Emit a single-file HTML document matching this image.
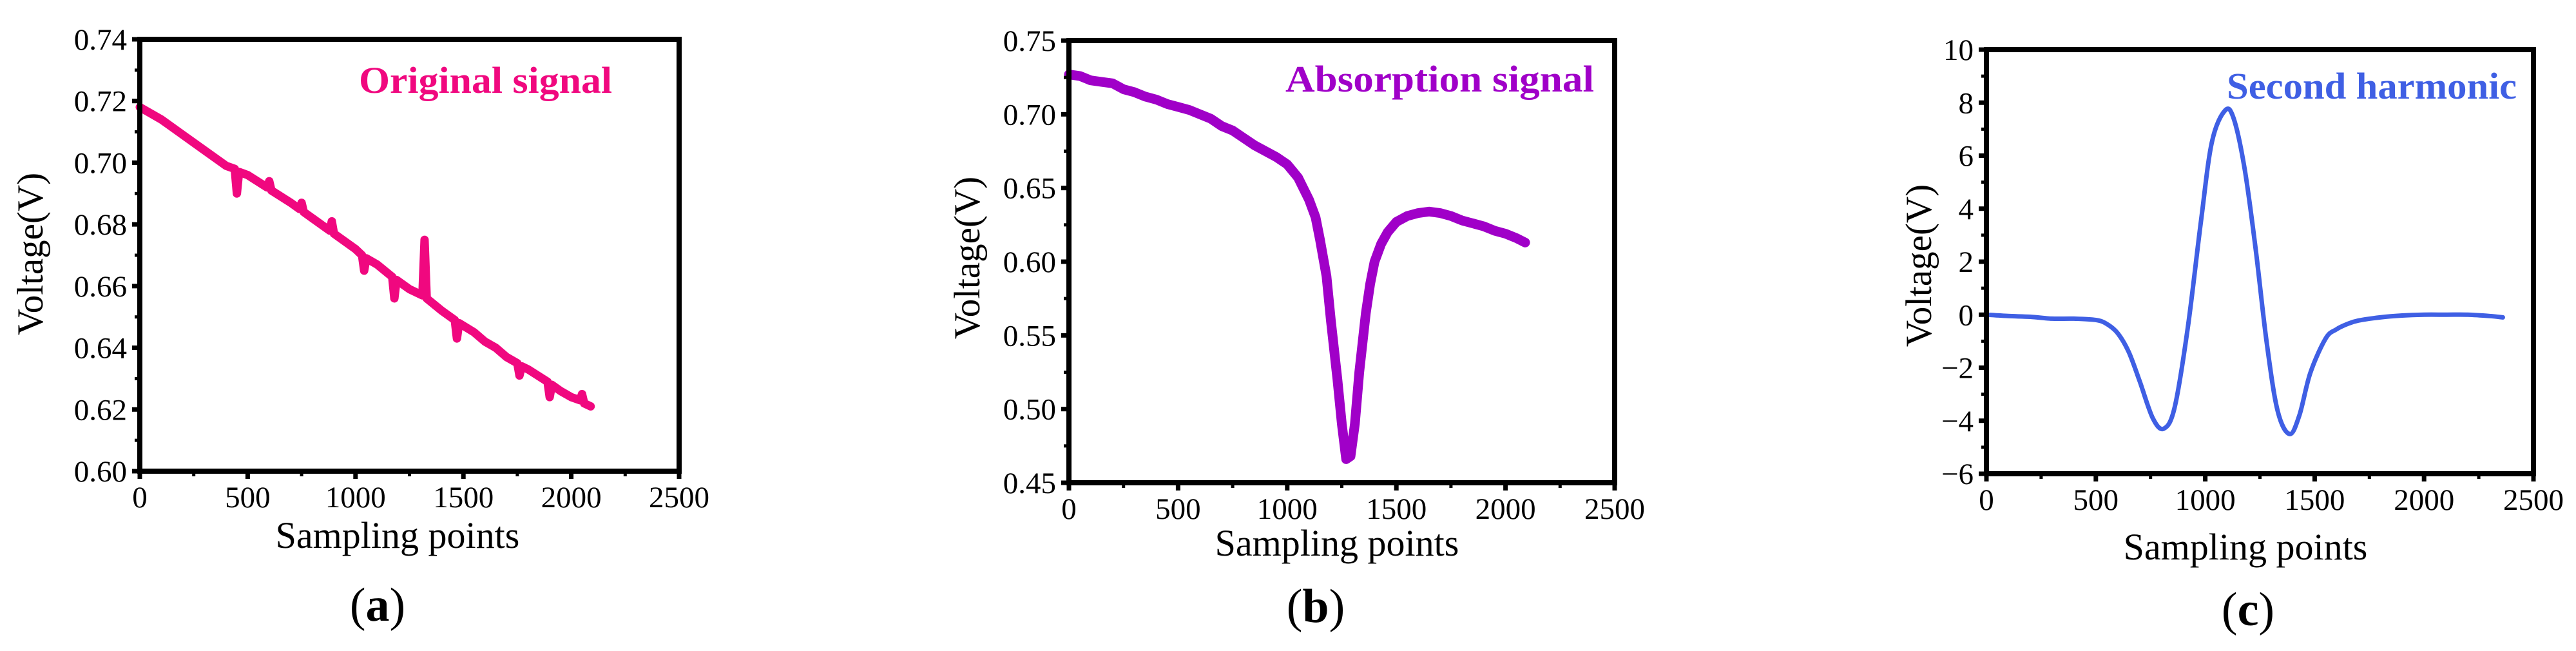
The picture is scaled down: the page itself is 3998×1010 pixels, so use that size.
<!DOCTYPE html>
<html><head><meta charset="utf-8"><style>
html,body{margin:0;padding:0;background:#fff}
svg{display:block}
text{font-family:"Liberation Serif","DejaVu Serif",serif}
</style></head><body>
<svg id="fig" width="3998" height="1010" viewBox="0 0 3998 1010">
<g id="pa"></g>
<g id="pb"></g>
<g id="pc"></g>
</svg>
<script>
// Panel (a) data
const aX = [0,100,200,300,400,440,450,460,500,590,600,610,700,740,750,760,800,880,890,900,1000,1030,1040,1050,1100,1170,1180,1190,1250,1310,1320,1330,1400,1460,1470,1480,1550,1600,1650,1700,1750,1760,1770,1800,1890,1900,1910,1950,2000,2040,2050,2060,2090];
const aY = [0.718,0.714,0.709,0.704,0.699,0.698,0.690,0.697,0.696,0.692,0.694,0.691,0.687,0.685,0.687,0.684,0.682,0.678,0.681,0.677,0.672,0.670,0.665,0.669,0.667,0.663,0.656,0.662,0.659,0.657,0.675,0.656,0.652,0.649,0.643,0.648,0.645,0.642,0.640,0.637,0.635,0.631,0.634,0.633,0.629,0.624,0.628,0.626,0.624,0.623,0.625,0.622,0.621];
const aYTicks = ["0.60","0.62","0.64","0.66","0.68","0.70","0.72","0.74"];
// Panel (b) data
const bX = [0,50,100,150,200,250,300,350,400,450,500,550,600,650,700,750,800,850,900,950,1000,1050,1100,1130,1150,1180,1200,1230,1250,1270,1290,1310,1330,1360,1380,1400,1430,1460,1500,1550,1600,1650,1700,1750,1800,1850,1900,1950,2000,2050,2090];
const bY = [0.727,0.726,0.723,0.722,0.721,0.717,0.715,0.712,0.710,0.707,0.705,0.703,0.700,0.697,0.692,0.689,0.684,0.679,0.675,0.671,0.666,0.657,0.642,0.630,0.615,0.590,0.560,0.520,0.490,0.466,0.468,0.490,0.525,0.565,0.585,0.600,0.612,0.620,0.627,0.631,0.633,0.634,0.633,0.631,0.628,0.626,0.624,0.621,0.619,0.616,0.613];
const bYTicks = ["0.45","0.50","0.55","0.60","0.65","0.70","0.75"];
// Panel (c) data
const cX = [0,100,200,300,400,500,550,600,650,700,760,810,860,920,980,1030,1090,1130,1180,1230,1280,1330,1385,1430,1480,1550,1600,1650,1700,1800,1900,2000,2100,2200,2300,2360];
const cY = [0,-0.05,-0.08,-0.15,-0.15,-0.2,-0.35,-0.7,-1.4,-2.5,-3.9,-4.3,-3.5,-0.5,3.5,6.5,7.7,7.4,5.5,2.5,-1.0,-3.6,-4.5,-3.8,-2.2,-0.9,-0.55,-0.35,-0.22,-0.1,-0.03,0,0,0,-0.05,-0.1];
const cYTicks = ["\u22126","\u22124","\u22122","0","2","4","6","8","10"];
const xTicks = ["0","500","1000","1500","2000","2500"];

const NS="http://www.w3.org/2000/svg";
function mk(p,tag,at,txt){const e=document.createElementNS(NS,tag);for(const k in at)e.setAttribute(k,at[k]);if(txt!==undefined)e.textContent=txt;p.appendChild(e);return e;}

function panel(g,cfg){
  const {L,R,T,B,ymin,ymax,ystep,yTicks,xs,ys,color,sw,title,tx,tb,tlen,lab,labx,ylx,ylabCy,smooth,xlabCx,xlabY,labY}=cfg;
  const X=v=>L+(v/2500)*(R-L);
  const Y=v=>B-(v-ymin)/(ymax-ymin)*(B-T);
  let d="";
  const P=xs.map((x,i)=>[X(x),Y(ys[i])]);
  if(smooth){
    d="M"+P[0][0]+","+P[0][1];
    for(let i=0;i<P.length-1;i++){
      const p0=P[Math.max(0,i-1)],p1=P[i],p2=P[i+1],p3=P[Math.min(P.length-1,i+2)];
      const c1=[p1[0]+(p2[0]-p0[0])/6,p1[1]+(p2[1]-p0[1])/6];
      const c2=[p2[0]-(p3[0]-p1[0])/6,p2[1]-(p3[1]-p1[1])/6];
      d+=` C${c1[0]},${c1[1]} ${c2[0]},${c2[1]} ${p2[0]},${p2[1]}`;
    }
  } else d="M"+P.map(p=>p[0]+","+p[1]).join(" L");
  const ln=mk(g,"path",{d:d,fill:"none",stroke:color,"stroke-width":sw,"stroke-linejoin":"round","stroke-linecap":"round"});
  
  
  const fr=mk(g,"rect",{x:L,y:T,width:R-L,height:B-T,fill:"none",stroke:"#000","stroke-width":8});
  
  
  yTicks.forEach((t,i)=>{
    const v=ymin+i*ystep,y=Y(v);
    mk(g,"line",{x1:L-12,x2:L,y1:y,y2:y,stroke:"#000","stroke-width":7});
    if(i<yTicks.length-1){const ym=Y(v+ystep/2);mk(g,"line",{x1:L-8,x2:L,y1:ym,y2:ym,stroke:"#000","stroke-width":5});}
    const tl=mk(g,"text",{x:L-20,y:y+16,"font-size":47,"text-anchor":"end",style:"fill:#000"},t);
    
    
  });
  xTicks.forEach((t,i)=>{
    const v=i*500,x=X(v);
    mk(g,"line",{x1:x,x2:x,y1:B,y2:B+12,stroke:"#000","stroke-width":7});
    if(i<xTicks.length-1){const xm=X(v+250);mk(g,"line",{x1:xm,x2:xm,y1:B,y2:B+8,stroke:"#000","stroke-width":5});}
    const tl=mk(g,"text",{x:x,y:B+56,"font-size":47,"text-anchor":"middle",style:"fill:#000"},t);
    
    
  });
  const xt=mk(g,"text",{x:xlabCx,y:xlabY,"font-size":58,"text-anchor":"middle",style:"fill:#000"},"Sampling points");
  
  
  const yt=mk(g,"text",{x:0,y:0,"font-size":57,"text-anchor":"middle",style:"fill:#000",transform:`translate(${ylx},${ylabCy}) rotate(-90)`},"Voltage(V)");
  
  
  const tt=mk(g,"text",{x:tx,y:tb,"font-size":58,"font-weight":"bold",style:"fill:"+color,textLength:tlen,lengthAdjust:"spacingAndGlyphs"},title);
  
  
  const pl=mk(g,"text",{x:labx,y:labY,"font-size":74,"text-anchor":"middle",style:"fill:#000"});
  
  
  mk(pl,"tspan",{},"(");mk(pl,"tspan",{"font-weight":"bold"},lab);mk(pl,"tspan",{},")");
}

panel(document.getElementById("pa"),{L:217,R:1054,T:61,B:731,ymin:0.60,ymax:0.74,ystep:0.02,yTicks:aYTicks,xs:aX,ys:aY,color:"#F0087F",sw:13,
  title:"Original signal",tx:557,tb:144,tlen:393,lab:"a",labx:586,labY:963,ylx:66,ylabCy:394,smooth:false,xlabCx:617,xlabY:850});
panel(document.getElementById("pb"),{L:1659,R:2506,T:63,B:749,ymin:0.45,ymax:0.75,ystep:0.05,yTicks:bYTicks,xs:bX,ys:bY,color:"#A000C8",sw:15,
  title:"Absorption signal",tx:1995,tb:142,tlen:479,lab:"b",labx:2042,labY:965,ylx:1520,ylabCy:400,smooth:false,xlabCx:2075,xlabY:862});
panel(document.getElementById("pc"),{L:3083,R:3932,T:77,B:735,ymin:-6,ymax:10,ystep:2,yTicks:cYTicks,xs:cX,ys:cY,color:"#3F5FE4",sw:7,
  title:"Second harmonic",tx:3456,tb:153,tlen:450,lab:"c",labx:3489,labY:970,ylx:2997,ylabCy:412,smooth:true,xlabCx:3485,xlabY:868});
</script>
</body></html>
